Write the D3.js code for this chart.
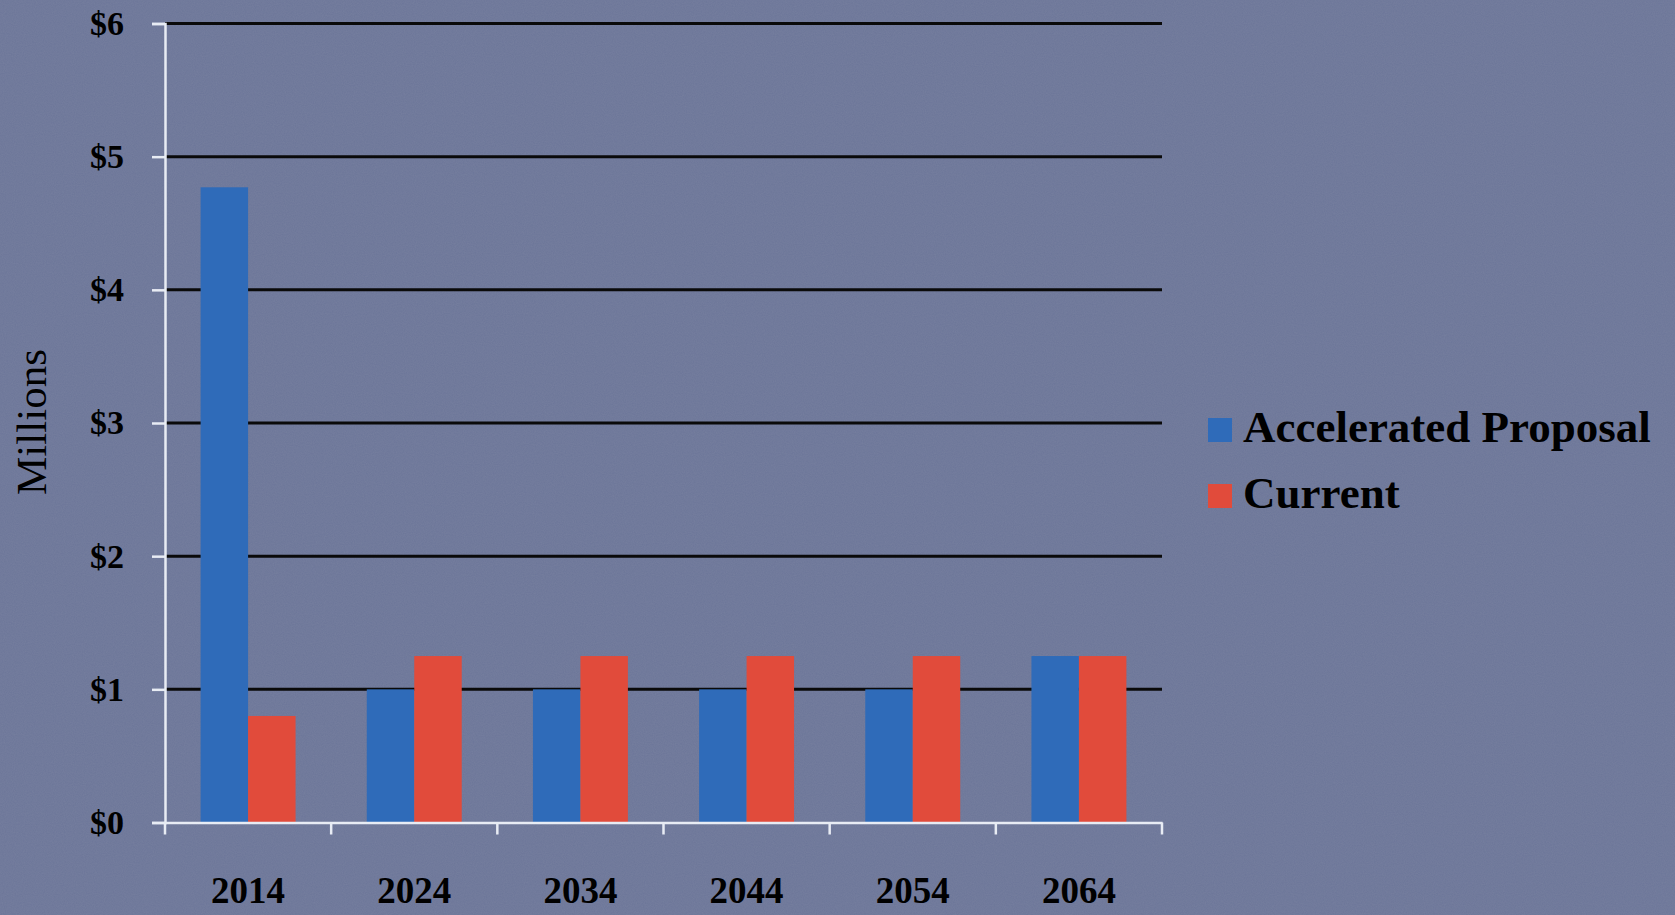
<!DOCTYPE html>
<html><head><meta charset="utf-8">
<script src="https://cdn.jsdelivr.net/npm/d3@7"></script>
<style>
html,body{margin:0;padding:0;background:#6c7699;}
svg{display:block;}
</style></head>
<body>
<svg id="chart" width="1675" height="915"></svg>
<script>
const categories = ["2014","2024","2034","2044","2054","2064"];
const seriesNames = ["Accelerated Proposal","Current"];
const accelerated = [4.77, 1.0, 1.0, 1.0, 1.0, 1.25];
const current = [0.8, 1.25, 1.25, 1.25, 1.25, 1.25];
const yTicks = [0,1,2,3,4,5,6];
const yTickLabels = ["$0","$1","$2","$3","$4","$5","$6"];
const colors = ["#2f6bb9","#e14b3b"];

(function(){
const svg = d3.select("#chart");
const pLeft = 165, pRight = 1162, pTop = 23.5, pBottom = 822.5;

// subtle paper texture
const defs = svg.append("defs");
const f = defs.append("filter").attr("id", "noise").attr("x", 0).attr("y", 0).attr("width", "100%").attr("height", "100%");
f.append("feTurbulence").attr("type", "fractalNoise").attr("baseFrequency", 0.9).attr("numOctaves", 2).attr("seed", 3);
f.append("feColorMatrix").attr("type", "matrix")
  .attr("values", "0 0 0 0 0.5  0 0 0 0 0.5  0 0 0 0 0.55  0 0 0 0.25 0");
svg.append("rect").attr("width", 1675).attr("height", 915).attr("fill", "#6c7699");
svg.append("rect").attr("width", 1675).attr("height", 915).attr("filter", "url(#noise)").attr("opacity", 0.5);

const x = d3.scaleBand().domain(categories).range([pLeft, pRight]).paddingInner(0).paddingOuter(0);
const inner = d3.scaleBand().domain(seriesNames).range([0, x.bandwidth()]).paddingInner(0).paddingOuter(0.75);
const y = d3.scaleLinear().domain([0, 6]).range([pBottom, pTop]);

// gridlines
svg.append("g").selectAll("line").data(yTicks.filter(d => d > 0)).join("line")
  .attr("x1", pLeft).attr("x2", pRight)
  .attr("y1", d => y(d)).attr("y2", d => y(d))
  .attr("stroke", "#0a0a0a").attr("stroke-width", 3);

// bars
const data = categories.map((c, i) => ({c, vals: [accelerated[i], current[i]]}));
const groups = svg.append("g").selectAll("g").data(data).join("g")
  .attr("transform", d => `translate(${x(d.c)},0)`);
groups.selectAll("rect").data(d => d.vals.map((v, j) => ({v, s: seriesNames[j], j}))).join("rect")
  .attr("x", d => inner(d.s))
  .attr("width", inner.bandwidth())
  .attr("y", d => y(d.v))
  .attr("height", d => y(0) - y(d.v))
  .attr("fill", d => colors[d.j]);

// y axis
const yAxis = d3.axisLeft(y).tickValues(yTicks).tickFormat((d, i) => yTickLabels[i]).tickSize(13).tickPadding(28);
const gy = svg.append("g").attr("transform", `translate(${pLeft},0)`).call(yAxis);
gy.select(".domain").attr("stroke", "#e8ecf4").attr("stroke-width", 2.5);
gy.selectAll(".tick line").attr("stroke", "#e8ecf4").attr("stroke-width", 2.5);
gy.selectAll(".tick text").attr("fill", "#000").attr("font-family", "Liberation Serif, serif")
  .attr("font-weight", "bold").attr("font-size", 34);

// x axis
const xAxis = d3.axisBottom(x).tickValues([]).tickSizeOuter(0);
const gx = svg.append("g").attr("transform", `translate(0,${pBottom})`).call(xAxis);
gx.select(".domain").attr("stroke", "#e8ecf4").attr("stroke-width", 2.5);
const boundaries = categories.map(c => x(c)).concat([pRight]);
gx.selectAll("line.b").data(boundaries).join("line").attr("class", "b")
  .attr("x1", d => d).attr("x2", d => d).attr("y1", 0).attr("y2", 12)
  .attr("stroke", "#e8ecf4").attr("stroke-width", 2.5);
gx.selectAll("text.cat").data(categories).join("text").attr("class", "cat")
  .attr("x", d => x(d) + x.bandwidth() / 2).attr("y", 80)
  .attr("text-anchor", "middle").attr("fill", "#000")
  .attr("font-family", "Liberation Serif, serif").attr("font-weight", "bold").attr("font-size", 37)
  .text(d => d);

// y title
svg.append("text").attr("transform", "translate(46,422) rotate(-90)")
  .attr("text-anchor", "middle").attr("fill", "#000")
  .attr("font-family", "Liberation Serif, serif").attr("font-size", 43)
  .text("Millions");

// legend
const leg = svg.append("g").selectAll("g").data(seriesNames).join("g")
  .attr("transform", (d, i) => `translate(1208,${418 + i * 66})`);
leg.append("rect").attr("width", 24).attr("height", 24).attr("fill", (d, i) => colors[i]);
leg.append("text").attr("x", 35).attr("y", 24).attr("fill", "#000")
  .attr("font-family", "Liberation Serif, serif").attr("font-weight", "bold").attr("font-size", 45)
  .text(d => d);
})();
</script>
</body></html>
